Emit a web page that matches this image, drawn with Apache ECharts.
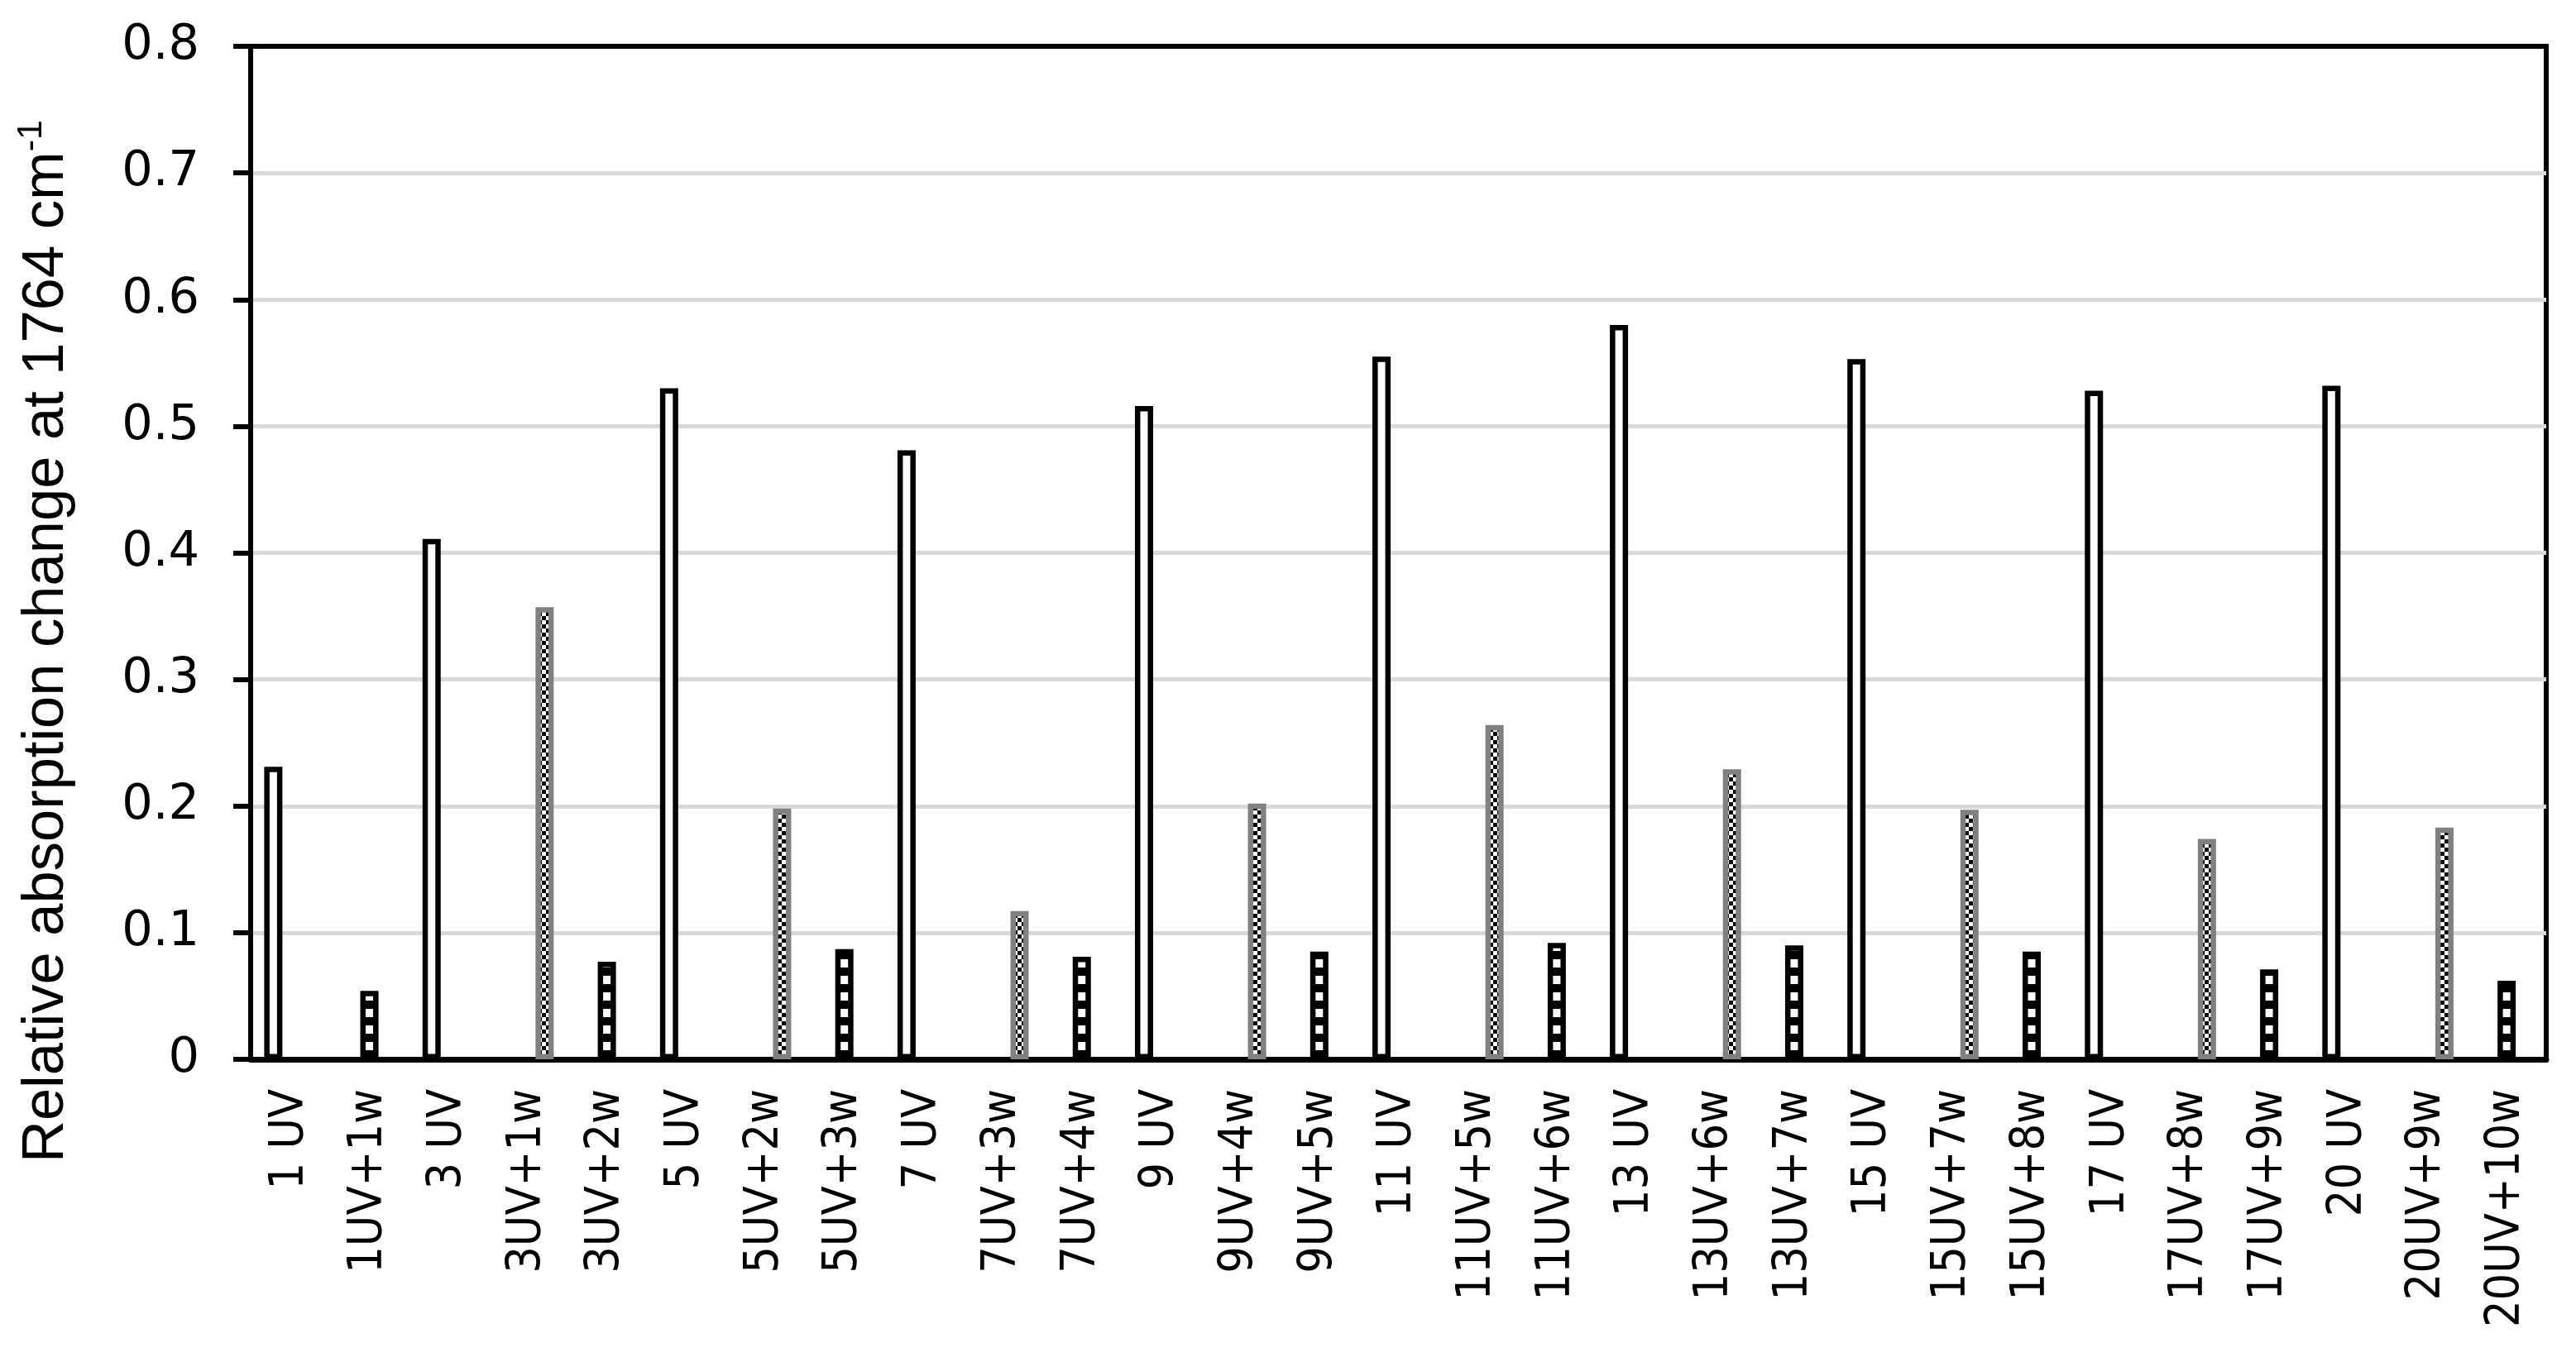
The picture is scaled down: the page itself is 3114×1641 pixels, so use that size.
<!DOCTYPE html>
<html>
<head>
<meta charset="utf-8">
<script src="https://cdn.jsdelivr.net/npm/echarts@6/dist/echarts.min.js"></script>
<style>
html,body{margin:0;padding:0;background:#fff;}
#chart{width:3114px;height:1641px;}
</style>
</head>
<body>
<div id="chart"></div>
<script>
// ---- data ----
const categories = ['1 UV','1UV+1w','3 UV','3UV+1w','3UV+2w','5 UV','5UV+2w','5UV+3w','7 UV','7UV+3w','7UV+4w','9 UV','9UV+4w','9UV+5w','11 UV','11UV+5w','11UV+6w','13 UV','13UV+6w','13UV+7w','15 UV','15UV+7w','15UV+8w','17 UV','17UV+8w','17UV+9w','20 UV','20UV+9w','20UV+10w'];
// white bars: UV only
const uvOnly = [0.231,null,0.411,null,null,0.530,null,null,0.481,null,null,0.516,null,null,0.555,null,null,0.580,null,null,0.553,null,null,0.528,null,null,0.532,null,null];
// black bars with white squares: UV + latest wash
const uvNewWash = [null,0.054,null,null,0.077,null,null,0.087,null,null,0.081,null,null,0.085,null,null,0.092,null,null,0.090,null,null,0.085,null,null,0.071,null,null,0.062];
// grey-bordered checker bars: UV + previous washes
const uvPrevWash = [null,null,null,0.357,null,null,0.198,null,null,0.117,null,null,0.202,null,null,0.264,null,null,0.229,null,null,0.197,null,null,0.174,null,null,0.183,null];
const yMin = 0, yMax = 0.8, yStep = 0.1;
const yTitle = 'Relative absorption change at 1764 cm';
const yTitleSup = '-1';

// ---- fill patterns (styles) ----
function stripePattern() {
  const c = document.createElement('canvas');
  c.width = 4; c.height = 20;
  const g = c.getContext('2d');
  g.fillStyle = '#000'; g.fillRect(0,0,4,20);
  g.fillStyle = '#fff'; g.fillRect(0,0,4,10);
  return c;
}
function checkerPattern() {
  const c = document.createElement('canvas');
  c.width = 10; c.height = 10;
  const g = c.getContext('2d');
  g.fillStyle = '#fff'; g.fillRect(0,0,10,10);
  g.fillStyle = '#000'; g.fillRect(0,0,5,5); g.fillRect(5,5,5,5);
  return c;
}

const chart = echarts.init(document.getElementById('chart'), null, {renderer:'canvas'});
const BW = 22;
const GAP = '-7%';
const option = {
  animation: false,
  backgroundColor: '#fff',
  grid: {left: 303, right: 36, top: 56, bottom: 360, show: true, borderColor: '#000', borderWidth: 6, backgroundColor: 'transparent', containLabel: false},
  xAxis: {
    type: 'category', data: categories,
    axisLine: {show: true, lineStyle: {color: '#000', width: 7}},
    axisTick: {show: false},
    axisLabel: {interval: 0, rotate: 90, margin: 36, color: '#000', fontSize: 57, fontFamily: "'DejaVu Sans Condensed','DejaVu Sans',sans-serif"},
    splitLine: {show: false}
  },
  yAxis: {
    type: 'value', min: yMin, max: yMax, interval: yStep,
    name: '{t|' + yTitle + '}{s|' + yTitleSup + '}',
    nameLocation: 'middle', nameRotate: 90, nameGap: 206,
    nameTextStyle: {
      padding: [0, 214, 0, 0],
      rich: {
        t: {fontSize: 70.5, fontFamily: "'Liberation Sans',Arial,sans-serif", color: '#000', lineHeight: 80},
        s: {fontSize: 43, fontFamily: "'Liberation Sans',Arial,sans-serif", color: '#000', verticalAlign: 'top', lineHeight: 80}
      }
    },
    axisLine: {show: true, lineStyle: {color: '#000', width: 6}},
    axisTick: {show: true, length: 21, lineStyle: {color: '#000', width: 6}},
    axisLabel: {margin: 62, color: '#000', fontSize: 59, fontFamily: "'DejaVu Sans',sans-serif"},
    splitLine: {show: true, showMinLine: false, showMaxLine: false, lineStyle: {color: '#d9d9d9', width: 5}}
  },
  series: [
    {name: 'UV', type: 'bar', data: uvOnly, barWidth: BW, barGap: GAP,
     itemStyle: {color: '#fff', borderColor: '#000', borderWidth: 6.5}},
    {name: 'UV + new wash', type: 'bar', data: uvNewWash, barWidth: BW, barGap: GAP,
     itemStyle: {color: {image: stripePattern(), repeat: 'repeat'}, borderColor: '#000', borderWidth: 6.5}},
    {name: 'UV + previous wash', type: 'bar', data: uvPrevWash, barWidth: BW, barGap: GAP,
     itemStyle: {color: {image: checkerPattern(), repeat: 'repeat'}, borderColor: '#808080', borderWidth: 6.5}}
  ]
};
chart.setOption(option);
</script>
</body>
</html>
